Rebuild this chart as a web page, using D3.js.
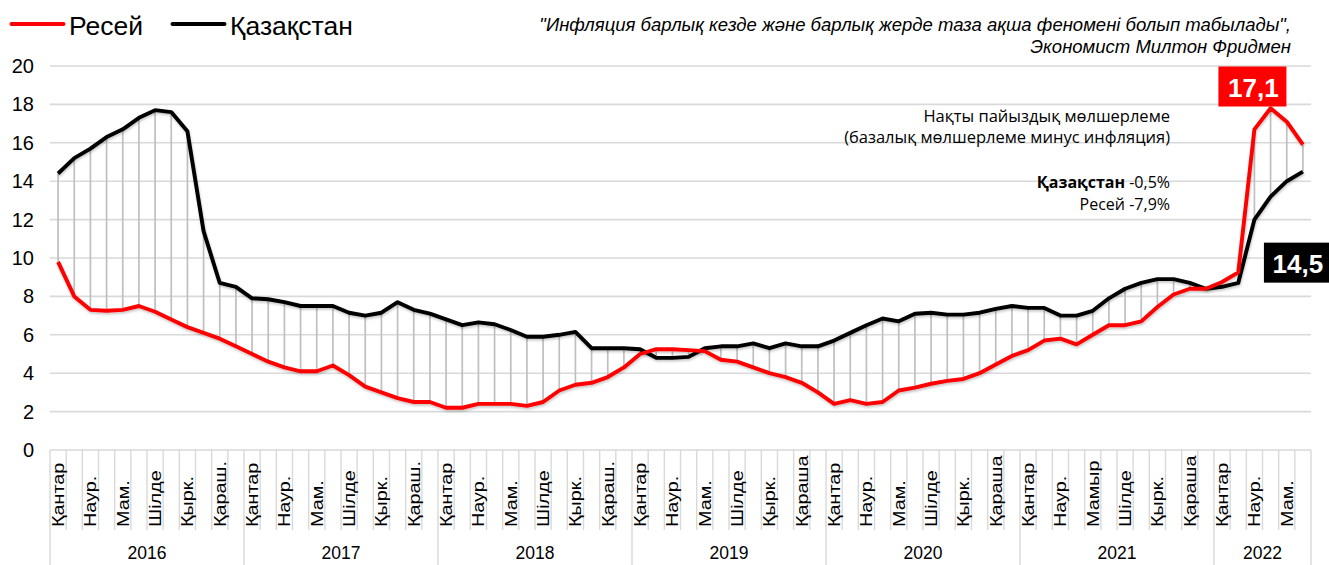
<!DOCTYPE html>
<html><head><meta charset="utf-8">
<script src="https://cdn.jsdelivr.net/npm/d3@7"></script>
<style>body{margin:0;background:#fff;} svg{display:block;}</style>
</head><body>
<svg id="c" width="1329" height="565"></svg>
<script>
const years = ["2016","2017","2018","2019","2020","2021","2022"];
const monthsPerYear = [12,12,12,12,12,12,6];
const monthTickLabels = [
"Қантар","","Наур.","","Мам.","","Шілде","","Қырк.","","Қараш.","",
"Қантар","","Наур.","","Мам.","","Шілде","","Қырк.","","Қараш.","",
"Қантар","","Наур.","","Мам.","","Шілде","","Қырк.","","Қараш.","",
"Қантар","","Наур.","","Мам.","","Шілде","","Қырк.","","Қараша","",
"Қантар","","Наур.","","Мам.","","Шілде","","Қырк.","","Қараша","",
"Қантар","","Наур.","","Мамыр","","Шілде","","Қырк.","","Қараша","",
"Қантар","","Наур.","","Мам.",""
];
const russia = [
9.8, 8.0, 7.3, 7.25, 7.3, 7.5, 7.2, 6.8, 6.4, 6.1, 5.8, 5.4,
5.0, 4.6, 4.3, 4.1, 4.1, 4.4, 3.9, 3.3, 3.0, 2.7, 2.5, 2.5,
2.2, 2.2, 2.4, 2.4, 2.4, 2.3, 2.5, 3.1, 3.4, 3.5, 3.8, 4.3,
5.0, 5.25, 5.25, 5.2, 5.15, 4.7, 4.6, 4.3, 4.0, 3.8, 3.5, 3.0,
2.4, 2.6, 2.4, 2.5, 3.1, 3.25, 3.45, 3.6, 3.7, 4.0, 4.45, 4.9,
5.2, 5.7, 5.8, 5.5, 6.0, 6.5, 6.5, 6.7, 7.45, 8.1, 8.4, 8.4,
8.75, 9.25, 16.7, 17.8, 17.1, 15.9
];
const kazakhstan = [
14.4, 15.2, 15.7, 16.3, 16.7, 17.3, 17.7, 17.6, 16.6, 11.4, 8.7, 8.5,
7.9, 7.85, 7.7, 7.5, 7.5, 7.5, 7.15, 7.0, 7.15, 7.7, 7.3, 7.1,
6.8, 6.5, 6.65, 6.55, 6.25, 5.9, 5.9, 6.0, 6.15, 5.3, 5.3, 5.3,
5.25, 4.8, 4.8, 4.85, 5.3, 5.4, 5.4, 5.55, 5.3, 5.55, 5.4, 5.4,
5.7, 6.1, 6.5, 6.85, 6.7, 7.1, 7.15, 7.05, 7.05, 7.15, 7.35, 7.5,
7.4, 7.4, 7.0, 7.0, 7.25, 7.9, 8.4, 8.7, 8.9, 8.9, 8.7, 8.4,
8.5, 8.7, 12.0, 13.2, 14.0, 14.5
];
const yTicks = [0,2,4,6,8,10,12,14,16,18,20];
const seriesNames = ["Ресей","Қазақстан"];
const seriesColors = ["#ff0000","#000000"];
const quoteLines = ["\"Инфляция барлық кезде және барлық жерде таза ақша феномені болып табылады\",","Экономист Милтон Фридмен"];
const noteLines = ["Нақты пайыздық мөлшерлеме","(базалық мөлшерлеме минус инфляция)"];
const realRates = [["Қазақстан","-0,5%"],["Ресей","-7,9%"]];

const ARIAL = "'Liberation Sans', Arial, sans-serif";
const svg = d3.select("#c");
const n = russia.length;
const x = d3.scaleBand().domain(d3.range(n)).range([50,1311]).padding(0);
const y = d3.scaleLinear().domain([0,20]).range([450,66]);
const cx = i => x(i) + x.bandwidth()/2;
const bx = k => k >= n ? x.range()[1] : x(k);

const defs = svg.append("defs");
defs.append("filter").attr("id","sh").attr("x","-5%").attr("y","-5%").attr("width","110%").attr("height","120%")
  .append("feDropShadow").attr("dx",0.6).attr("dy",1.8).attr("stdDeviation",1.2)
  .attr("flood-color","#000").attr("flood-opacity",0.22);

// gridlines
svg.append("g").selectAll("line").data(yTicks).join("line")
  .attr("x1",50).attr("x2",1311).attr("y1",d=>y(d)).attr("y2",d=>y(d))
  .attr("stroke","#d9d9d9").attr("stroke-width",1.6);

// y axis labels
const ya = svg.append("g").attr("transform","translate(50,0)")
  .call(d3.axisLeft(y).tickValues(yTicks).tickSize(0).tickPadding(16));
ya.select(".domain").remove();
ya.selectAll("text").attr("font-family",ARIAL).attr("font-size",20).attr("fill","#000");

// category axis separators
const yearStarts = [0];
monthsPerYear.forEach((m,k)=>yearStarts.push(yearStarts[k]+m));
svg.append("g").selectAll("line").data(d3.range(n+1)).join("line")
  .attr("x1",k=>bx(k)).attr("x2",k=>bx(k)).attr("y1",y(0))
  .attr("y2",k=>yearStarts.includes(k)?565:530)
  .attr("stroke","#d9d9d9").attr("stroke-width",1.4);

// month labels
svg.append("g").selectAll("text")
  .data(monthTickLabels.map((l,i)=>({l,i})).filter(d=>d.l))
  .join("text")
  .attr("transform",d=>`translate(${cx(d.i)},527) rotate(-90) scale(1.2,1)`)
  .attr("dy","0.36em").attr("text-anchor","start")
  .attr("font-family",ARIAL).attr("font-size",16.5).attr("fill","#000")
  .text(d=>d.l);

// year labels
svg.append("g").selectAll("text").data(years).join("text")
  .attr("x",(d,k)=>(bx(yearStarts[k])+bx(yearStarts[k+1]))/2)
  .attr("y",559).attr("text-anchor","middle")
  .attr("font-family",ARIAL).attr("font-size",17.5).attr("fill","#000")
  .text(d=>d);

// high-low drop lines
svg.append("g").selectAll("line").data(d3.range(n)).join("line")
  .attr("x1",cx).attr("x2",cx).attr("y1",i=>y(russia[i])).attr("y2",i=>y(kazakhstan[i]))
  .attr("stroke","#bfbfbf").attr("stroke-width",1.7);

// series lines
const line = d3.line().x((d,i)=>cx(i)).y(d=>y(d));
const seriesData = [russia, kazakhstan];
[1,0].forEach(s=>{
  svg.append("path").datum(seriesData[s]).attr("d",line)
    .attr("fill","none").attr("stroke",seriesColors[s]).attr("stroke-width",3.9)
    .attr("stroke-linejoin","round").attr("filter","url(#sh)");
});

// legend
const leg = svg.append("g");
const legX = [11.5, 172.5];
seriesNames.forEach((name,s)=>{
  leg.append("line").attr("x1",legX[s]).attr("x2",legX[s]+52).attr("y1",24).attr("y2",24)
    .attr("stroke",seriesColors[s]).attr("stroke-width",4).attr("stroke-linecap","round");
  leg.append("text").attr("x",legX[s]+57.5).attr("y",35)
    .attr("font-family",ARIAL).attr("font-size",26.5).attr("fill","#000").text(name);
});

// quote
svg.append("g").selectAll("text").data(quoteLines).join("text")
  .attr("x",1291).attr("y",(d,k)=>31+k*21.5).attr("text-anchor","end")
  .attr("font-family",ARIAL).attr("font-style","italic").attr("font-size",18.5).attr("fill","#000")
  .text(d=>d);

// annotation
const NOTE = "'Open Sans','Noto Sans',sans-serif";
svg.append("g").selectAll("text").data(noteLines).join("text")
  .attr("x",1170).attr("y",(d,k)=>121.5+k*21.5).attr("text-anchor","end")
  .attr("font-family",NOTE).attr("font-size",16.5).attr("fill","#000").text(d=>d);
const rr = svg.append("g").selectAll("text").data(realRates).join("text")
  .attr("x",1170).attr("y",(d,k)=>188+k*21.5).attr("text-anchor","end")
  .attr("font-family",NOTE).attr("font-size",16).attr("fill","#000");
rr.append("tspan").attr("font-weight",d=>d[0]==="Қазақстан"?"bold":"normal").text(d=>d[0]);
rr.append("tspan").text(d=>" "+d[1]);

// value labels
const fmt = v => d3.format(".1f")(v).replace(".",",");
const lab = [
  {v:russia[n-2], color:seriesColors[0], cxp:cx(n-4)-2, top:y(20)+0.5, w:68},
  {v:kazakhstan[n-1], color:seriesColors[1], cxp:cx(n-1)-6, top:y(10.8), w:66}
];
lab.forEach(d=>{
  svg.append("rect").attr("x",d.cxp-d.w/2).attr("y",d.top).attr("width",d.w).attr("height",40).attr("fill",d.color);
  svg.append("text").attr("x",d.cxp+1).attr("y",d.top+30).attr("text-anchor","middle")
    .attr("font-family",ARIAL).attr("font-weight","bold").attr("font-size",26).attr("fill","#fff").text(fmt(d.v));
});
</script>
</body></html>
